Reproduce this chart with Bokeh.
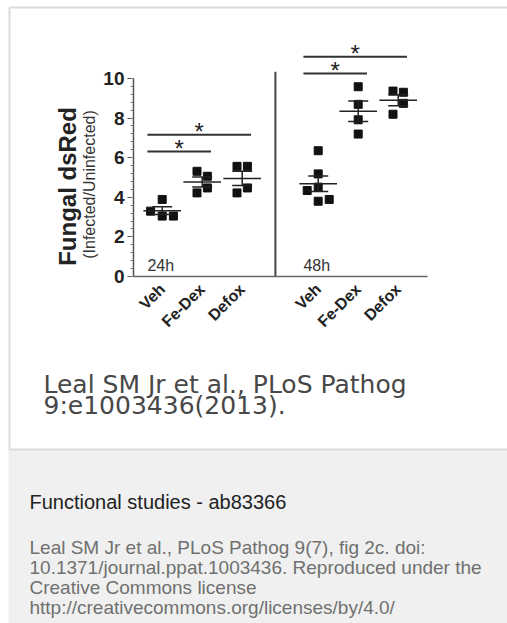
import numpy as np
from math import pi, sqrt
from bokeh.plotting import figure
from bokeh.models import FixedTicker, Range1d, LinearAxis
from bokeh.core.properties import value
from bokeh.embed import file_html
from bokeh.resources import INLINE

# ---------------- data ----------------
timepoints = ["24h", "48h"]
treatments = ["Veh", "Fe-Dex", "Defox"]

veh_24h = [3.89, 3.30, 3.05, 3.05]
fedex_24h = [5.31, 5.06, 4.22, 4.47]
defox_24h = [5.56, 5.56, 4.22, 4.47]
veh_48h = [6.35, 5.18, 4.51, 4.34, 3.80, 3.89]
fedex_48h = [9.58, 8.69, 7.91, 7.19]
defox_48h = [9.36, 9.30, 8.74, 8.19]

# horizontal scatter of the dots, in category widths
veh_24h_jitter = [0.0, -0.29, 0.0, 0.28]
fedex_24h_jitter = [-0.13, 0.13, -0.13, 0.13]
defox_24h_jitter = [-0.13, 0.13, -0.13, 0.13]
veh_48h_jitter = [0.0, 0.0, 0.0, -0.275, 0.0, 0.275]
fedex_48h_jitter = [0.0, 0.0, 0.0, 0.0]
defox_48h_jitter = [-0.13, 0.13, 0.13, -0.13]

# significance brackets
sig_time = ["24h", "24h", "48h", "48h"]
sig_from = ["Veh", "Veh", "Veh", "Veh"]
sig_to = ["Fe-Dex", "Defox", "Fe-Dex", "Defox"]
sig_height = [6.31, 7.15, 10.25, 11.09]

y_ticks = [0, 2, 4, 6, 8, 10]
y_title = "Fungal dsRed"
y_subtitle = "(Infected/Uninfected)"
caption_lines = ["Leal SM Jr et al., PLoS Pathog", "9:e1003436(2013)."]
panel_title = "Functional studies - ab83366"
panel_lines = [
    "Leal SM Jr et al., PLoS Pathog 9(7), fig 2c. doi:",
    "10.1371/journal.ppat.1003436. Reproduced under the",
    "Creative Commons license",
    "http://creativecommons.org/licenses/by/4.0/",
]

groups = {
    ("24h", "Veh"): (veh_24h, veh_24h_jitter),
    ("24h", "Fe-Dex"): (fedex_24h, fedex_24h_jitter),
    ("24h", "Defox"): (defox_24h, defox_24h_jitter),
    ("48h", "Veh"): (veh_48h, veh_48h_jitter),
    ("48h", "Fe-Dex"): (fedex_48h, fedex_48h_jitter),
    ("48h", "Defox"): (defox_48h, defox_48h_jitter),
}

# ---------------- layout constants ----------------
W, H = 507, 623
FONT = "Liberation Sans"
GROUP_STEP = 3.9
X_PER_PX = 1 / 40.0          # data x units per pixel
Y_PER_PX = 1 / 19.81         # data y units per pixel
X_ANCHOR_PX, X_ANCHOR = 161.7, 1.0   # page x of the first category
Y_ZERO_PX = 276.0                    # page y of value 0
AXIS_X = 0.2825                      # where the value axis sits
AXIS_END = 7.6325
DIVIDER_X = 3.83
DIVIDER_TOP = 10.33
MEAN_HALF = 0.47
CAP_HALF = 0.25


def pos(t, tr):
    return round(1 + treatments.index(tr) + GROUP_STEP * timepoints.index(t), 3)


px, py = [], []
mx0, mx1, my = [], [], []
ex, ey0, ey1 = [], [], []
cx0, cx1, cy = [], [], []
for (t, tr), (vals, jit) in groups.items():
    c = pos(t, tr)
    for v, j in zip(vals, jit):
        px.append(c + j)
        py.append(v)
    arr = np.array(vals)
    m = arr.mean()
    s = arr.std(ddof=1) / sqrt(len(arr))
    mx0.append(c - MEAN_HALF); mx1.append(c + MEAN_HALF); my.append(m)
    ex.append(c); ey0.append(m - s); ey1.append(m + s)
    for yy in (m - s, m + s):
        cx0.append(c - CAP_HALF); cx1.append(c + CAP_HALF); cy.append(yy)

x_start = X_ANCHOR - X_ANCHOR_PX * X_PER_PX
y_end = Y_ZERO_PX * Y_PER_PX
p = figure(width=W, height=H,
           x_range=Range1d(x_start, x_start + W * X_PER_PX),
           y_range=Range1d(y_end - H * Y_PER_PX, y_end),
           min_border=0, output_backend="svg", toolbar_location=None, title=None,
           x_axis_location=None, y_axis_location=None,
           outline_line_color=None, background_fill_color="white", border_fill_color="white")
p.grid.visible = False
p.extra_x_ranges = {"page": Range1d(0, W)}
p.extra_y_ranges = {"page": Range1d(H, 0)}
PG = dict(x_range_name="page", y_range_name="page")

# card and description panel
p.quad(left=[8], right=[W + 60], top=[449], bottom=[H + 60], fill_color="#eff0ef", line_color=None, **PG)
p.quad(left=[9], right=[W + 60], top=[7], bottom=[449], fill_color=None, line_color="#dcdcdc", line_width=2, **PG)

# y axis
yax = LinearAxis(fixed_location=AXIS_X)
yax.ticker = FixedTicker(ticks=y_ticks, minor_ticks=[round(0.4 * i, 1) for i in range(26)])
yax.bounds = (0, 10)
yax.axis_line_color = "#555555"
yax.axis_line_width = 1.5
yax.major_tick_line_color = "#555555"
yax.minor_tick_line_color = "#777777"
yax.major_tick_in = 0
yax.major_tick_out = 6
yax.minor_tick_in = 0
yax.minor_tick_out = 3
yax.major_label_standoff = 3
yax.major_label_text_font = FONT
yax.major_label_text_font_style = "bold"
yax.major_label_text_font_size = "19px"
yax.major_label_text_color = "#222222"
p.add_layout(yax, "left")

# x axis
xax = LinearAxis(fixed_location=0)
xticks = [pos(t, tr) for t in timepoints for tr in treatments]
xax.ticker = FixedTicker(ticks=xticks)
xax.major_label_overrides = {pos(t, tr): tr for t in timepoints for tr in treatments}
xax.bounds = (AXIS_X, AXIS_END)
xax.major_tick_line_color = None
xax.minor_tick_line_color = None
xax.axis_line_color = "#666666"
xax.axis_line_width = 1.5
xax.major_label_orientation = pi / 4
xax.major_label_text_font = FONT
xax.major_label_text_font_style = "bold"
xax.major_label_text_font_size = "16px"
xax.major_label_text_color = "#222222"
xax.major_label_standoff = 4
p.add_layout(xax, "below")

# divider between the time points
p.segment(x0=[DIVIDER_X], y0=[0], x1=[DIVIDER_X], y1=[DIVIDER_TOP], line_color="#444444", line_width=2)

# dots
p.scatter(px, py, marker="square", size=8, fill_color="#111111", line_color="#111111")
# mean and SEM
p.segment(x0=mx0, y0=my, x1=mx1, y1=my, line_color="#222222", line_width=1.5)
p.segment(x0=ex, y0=ey0, x1=ex, y1=ey1, line_color="#222222", line_width=1.5)
p.segment(x0=cx0, y0=cy, x1=cx1, y1=cy, line_color="#222222", line_width=1.5)

# significance brackets
sx0 = [pos(t, a) - 0.37 for t, a in zip(sig_time, sig_from)]
sx1 = [pos(t, b) + 0.22 for t, b in zip(sig_time, sig_to)]
p.segment(x0=sx0, y0=sig_height, x1=sx1, y1=sig_height, line_color="#333333", line_width=2)
p.text(x=[(a + b) / 2 for a, b in zip(sx0, sx1)], y=sig_height, text=["*"] * len(sig_height),
       text_font=value(FONT), text_font_size="24px", text_align="center",
       text_baseline="alphabetic", y_offset=-3, text_color="#222222")

# time point labels
p.text(x=[pos(t, "Veh") - 0.37 for t in timepoints], y=[0.55] * len(timepoints), text=timepoints,
       text_font=value(FONT), text_font_size="16px", text_baseline="alphabetic", text_color="#333333")

# y titles
p.text(x=[66.5], y=[186], text=[y_title], angle=pi / 2, text_align="center", text_baseline="middle",
       text_font=value(FONT), text_font_style="bold", text_font_size="24px", text_color="#222222", **PG)
p.text(x=[89], y=[184], text=[y_subtitle], angle=pi / 2, text_align="center", text_baseline="middle",
       text_font=value(FONT), text_font_size="16px", text_color="#333333", **PG)

# figure caption
p.text(x=[43] * len(caption_lines), y=[384 + 21 * i for i in range(len(caption_lines))], text=caption_lines,
       text_font=value("DejaVu Sans"), text_font_size="25px", text_baseline="alphabetic",
       text_color="#484848", **PG)

# description panel texts
p.text(x=[29], y=[501], text=[panel_title], text_font=value(FONT), text_font_size="20px",
       text_baseline="alphabetic", text_color="#222222", **PG)
p.text(x=[29] * len(panel_lines), y=[546.5 + 20 * i for i in range(len(panel_lines))], text=panel_lines,
       text_font=value(FONT), text_font_size="19px", text_baseline="alphabetic", text_color="#707070", **PG)

open("out.html", "w").write(file_html(p, INLINE))
